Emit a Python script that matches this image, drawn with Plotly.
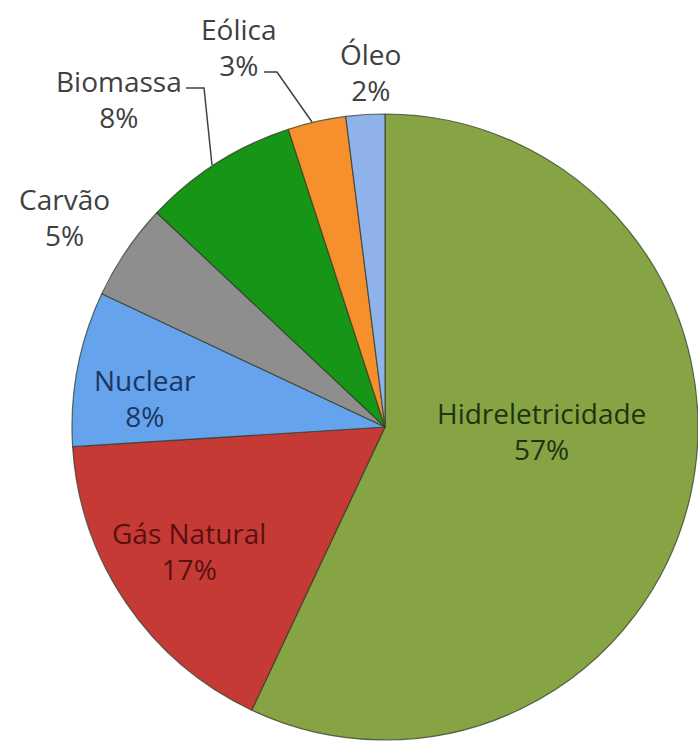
import plotly.graph_objects as go

# Electricity generation mix (share of total, %)
fontes = ["Hidreletricidade", "Gás Natural", "Nuclear", "Carvão",
          "Biomassa", "Eólica", "Óleo"]
percentuais = [57, 17, 8, 5, 8, 3, 2]

cores = ["#86A444", "#C63A36", "#65A3EC", "#8E8E8E",
         "#169516", "#F5902C", "#8FB2EA"]
cores_texto = ["#1E3410", "#5A1010", "#1C3660", "#404040",
               "#404040", "#404040", "#404040"]

# Label centres in pixels (x, y from top) for each source
pos_rotulos = [(541, 431), (189, 551), (145, 398), (64, 217),
               (119, 99), (239, 47), (370, 72)]

W, H = 698, 750

fig = go.Figure(go.Pie(
    labels=fontes,
    values=percentuais,
    sort=False,
    direction="clockwise",
    rotation=0,
    textinfo="none",
    hoverinfo="label+percent",
    marker=dict(colors=cores, line=dict(color="rgba(50,60,40,0.75)", width=1.2)),
    domain=dict(x=[72 / W, 1.0], y=[10 / H, 636 / H]),
    showlegend=False,
))

anotacoes = []
for nome, v, cor, (px, py) in zip(fontes, percentuais, cores_texto, pos_rotulos):
    anotacoes.append(dict(
        x=px / W, y=1 - py / H, xref="paper", yref="paper",
        text=f"{nome}<br>{v}%", showarrow=False,
        font=dict(family="Open Sans, Noto Sans, sans-serif", size=28, color=cor),
        align="center", xanchor="center", yanchor="middle",
    ))

fig.update_layout(
    width=W, height=H,
    margin=dict(l=0, r=0, t=0, b=0),
    paper_bgcolor="white",
    plot_bgcolor="white",
    annotations=anotacoes,
)

# Leader lines for the Biomassa and Eólica labels
linhas = [
    [(186, 88), (204, 88), (212, 165)],
    [(264, 72), (277, 72), (312, 122)],
]
for pts in linhas:
    path = "M " + " L ".join(f"{x / W:.4f},{1 - y / H:.4f}" for x, y in pts)
    fig.add_shape(type="path", path=path, xref="paper", yref="paper",
                  line=dict(color="#404040", width=1.5))

fig.write_html("out.html")
